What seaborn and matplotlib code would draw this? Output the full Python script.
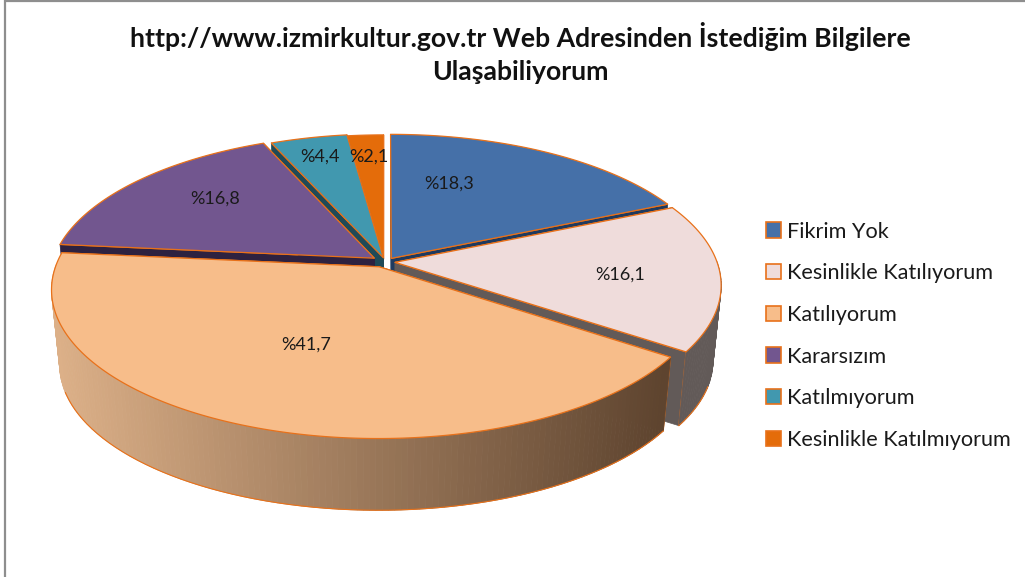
import numpy as np
import matplotlib
matplotlib.use("Agg")
import matplotlib.pyplot as plt
from matplotlib.patches import Patch, Polygon
from matplotlib.colors import to_rgb
import seaborn as sns

# ---- data ----
categories = ["Fikrim Yok", "Kesinlikle Katılıyorum", "Katılıyorum",
              "Kararsızım", "Katılmıyorum", "Kesinlikle Katılmıyorum"]
values = [18.3, 16.1, 41.7, 16.8, 4.4, 2.1]
value_labels = ["%18,3", "%16,1", "%41,7", "%16,8", "%4,4", "%2,1"]
title = "http://www.izmirkultur.gov.tr Web Adresinden İstediğim Bilgilere\nUlaşabiliyorum"

# ---- style / layout ----
sns.set_theme(style="white")
FONT = ["Lato", "DejaVu Sans"]
plt.rcParams["font.family"] = FONT
top_colors = sns.color_palette(["#4570A8", "#EFDCDB", "#F7BD8A", "#72568F", "#4198AF", "#E46C0A"])
side_colors = sns.color_palette(["#1E3A5F", "#625A58", "#A07D5A", "#2E2240", "#1F4A57", "#7A3A05"])
EDGE = "#E8711A"
explode = [0.030, 0.025, 0.035, 0.045, 0.030, 0.020]
nudge_px = [0, 1, -3, 0, 0, -2]
paint_order = [5, 4, 3, 0, 1, 2]
label_xy = [(449, 184), (620, 275), (306, 345), (215, 199), (320, 157), (369, 157)]
CX, CY = 386, 262
RX, RY, PERSP = 322, 144, 0.1525
DEPTH, SHRINK = 76, 0.975


def project(X, Y):
    s = 1 / (1 - PERSP * Y)
    return CX + RX * X * s, CY + RY * Y * s


def extrude(px, py, apex):
    return (apex[0] + (px - apex[0]) * SHRINK,
            apex[1] + (py - apex[1]) * SHRINK + DEPTH)


fig = plt.figure(figsize=(10.25, 5.77), dpi=100)
ax = fig.add_axes([0, 0, 1, 1])
ax.set_xlim(0, 1025)
ax.set_ylim(577, 0)
ax.axis("off")

fractions = np.array(values) / np.sum(values)
ends = np.cumsum(fractions) * 2 * np.pi
starts = ends - fractions * 2 * np.pi

for i in paint_order:
    a0, a1 = starts[i], ends[i]
    mid = (a0 + a1) / 2
    ox, oy = explode[i] * np.sin(mid), -explode[i] * np.cos(mid)
    th = np.linspace(a0, a1, max(int((a1 - a0) * 60), 6))
    arc_x, arc_y = project(ox + np.sin(th), oy - np.cos(th))
    apex = project(ox, oy)
    arc_x = arc_x + nudge_px[i]
    apex = (apex[0] + nudge_px[i], apex[1])
    low_x, low_y = extrude(arc_x, arc_y, apex)
    low_apex = extrude(np.array(apex[0]), np.array(apex[1]), apex)
    front = -np.cos(th) > -0.02
    rim = -np.cos(th) > 0.32

    # cut faces
    for k in (0, -1):
        ax.add_patch(Polygon([apex, (arc_x[k], arc_y[k]), (low_x[k], low_y[k]), low_apex],
                             closed=True, fc=side_colors[i], ec=side_colors[i], lw=0.5, zorder=2))
        ax.plot([apex[0], arc_x[k]], [apex[1], arc_y[k]], color=EDGE, lw=0.8, zorder=2)
        if rim[k]:
            ax.plot([arc_x[k], low_x[k]], [arc_y[k], low_y[k]], color=EDGE, lw=0.8, zorder=2)
    # outer wall (only the part that faces the viewer)
    for j in range(len(th) - 1):
        if not (front[j] and front[j + 1]):
            continue
        if i == 2:
            t = np.clip((arc_x[j] - 55) / 610, 0, 1)
            c0, c1 = np.array(to_rgb("#DCB088")), np.array(to_rgb("#5E442F"))
            col = tuple(c0 + (c1 - c0) * t)
        else:
            col = side_colors[i]
        ax.add_patch(Polygon([(arc_x[j], arc_y[j]), (arc_x[j + 1], arc_y[j + 1]),
                              (low_x[j + 1], low_y[j + 1]), (low_x[j], low_y[j])],
                             closed=True, fc=col, ec=col, lw=0.6, zorder=2))
    if rim.any():
        ax.plot(low_x[rim], low_y[rim], color=EDGE, lw=0.8, zorder=2)
    # top face
    ax.add_patch(Polygon(np.vstack([[apex], np.column_stack([arc_x, arc_y])]),
                         closed=True, fc=top_colors[i], ec=EDGE, lw=0.9, zorder=2))

for txt, (x, y) in zip(value_labels, label_xy):
    ax.text(x, y, txt, ha="center", va="center", fontsize=13, color="#1a1a1a", zorder=5)

ax.text(520, 53, title, ha="center", va="center", fontsize=19.15, fontweight="bold",
        color="#111111", linespacing=1.45)

handles = [Patch(fc=c, ec=EDGE, lw=1.2) for c in top_colors]
ax.legend(handles, categories, loc="upper left", bbox_to_anchor=(757 / 1025, 1 - 213 / 577),
          frameon=False, fontsize=15.6, labelspacing=1.0, handlelength=0.7, handleheight=0.7,
          handletextpad=0.28, labelcolor="#1a1a1a", borderpad=0.4, borderaxespad=0)

ax.plot([5, 5], [0, 577], color="#8E8E8E", lw=1.6, solid_capstyle="butt", zorder=1)
ax.plot([5, 1025], [1, 1], color="#8E8E8E", lw=1.6, solid_capstyle="butt", zorder=1)

fig.savefig("out.png", dpi=100)
